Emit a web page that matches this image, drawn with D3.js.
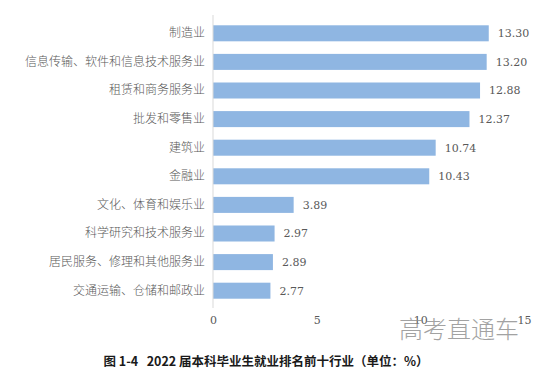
<!DOCTYPE html>
<html>
<head>
<meta charset="utf-8">
<script src="https://cdn.jsdelivr.net/npm/d3@7"></script>
<style>
	body { margin: 0; background: #fff; }
	svg { display: block; }
</style>
</head>
<body>
<div id="chart"></div>
<script>
// industries, top to bottom
var industries = ["制造业", "信息传输、软件和信息技术服务业", "租赁和商务服务业", "批发和零售业", "建筑业",
	"金融业", "文化、体育和娱乐业", "科学研究和技术服务业", "居民服务、修理和其他服务业", "交通运输、仓储和邮政业"];
var shares = [13.30, 13.20, 12.88, 12.37, 10.74, 10.43, 3.89, 2.97, 2.89, 2.77];
var xTicks = [0, 5, 10, 15];

var data = industries.map(function(d, i) { return {name: d, value: shares[i]}; });

var W = 543, H = 371;
var margin = {top: 19, right: 19, bottom: 63, left: 213};

var svg = d3.select("#chart").append("svg")
	.attr("width", W)
	.attr("height", H);

var x = d3.scaleLinear().domain([0, 15]).range([margin.left, margin.left + 311]);
var y = d3.scaleBand().domain(industries)
	.range([19, 305])
	.paddingInner(0.44)
	.paddingOuter(0.22);

var serif = "DejaVu Serif, Liberation Serif, serif";

// bars
svg.selectAll("rect.bar")
	.data(data)
	.enter().append("rect")
	.attr("class", "bar")
	.attr("x", x(0))
	.attr("y", function(d) { return y(d.name); })
	.attr("width", function(d) { return x(d.value) - x(0); })
	.attr("height", y.bandwidth())
	.attr("fill", "#8fb6e2");

// value labels
svg.selectAll("text.val")
	.data(data)
	.enter().append("text")
	.attr("class", "val")
	.attr("x", function(d) { return x(d.value) + 9; })
	.attr("y", function(d) { return y(d.name) + y.bandwidth() / 2; })
	.attr("dy", "0.35em")
	.style("font-family", serif)
	.attr("font-size", 11)
	.attr("fill", "#595959")
	.text(function(d) { return d.value.toFixed(2); });

// category axis (left)
var yAxis = svg.append("g")
	.attr("transform", "translate(" + margin.left + ",0)")
	.call(d3.axisLeft(y).tickSize(0).tickPadding(8));
yAxis.select(".domain")
	.attr("d", "M0,15V308")
	.attr("stroke", "#d9d9d9");
yAxis.selectAll("text")
	.style("font-family", "Noto Sans CJK SC, sans-serif")
	.attr("font-weight", 300)
	.attr("font-size", 12)
	.attr("fill", "#595959");

// value axis (bottom, no line)
var xAxis = svg.append("g")
	.attr("transform", "translate(0,312)")
	.call(d3.axisBottom(x).tickValues(xTicks).tickSize(0).tickPadding(4));
xAxis.select(".domain").remove();
xAxis.selectAll("text")
	.style("font-family", serif)
	.attr("font-size", 11)
	.attr("fill", "#595959");

// watermark
svg.append("text")
	.attr("x", 459)
	.attr("y", 338)
	.attr("text-anchor", "middle")
	.style("font-family", "Noto Sans CJK SC, sans-serif")
	.attr("font-weight", 300)
	.attr("font-size", 24)
	.attr("fill", "#8c8c8c")
	.attr("opacity", 0.8)
	.text("高考直通车");

// caption
svg.append("text")
	.attr("x", 266)
	.attr("y", 366)
	.attr("text-anchor", "middle")
	.style("font-family", "Noto Sans CJK SC, sans-serif")
	.attr("font-weight", 700)
	.attr("font-size", 12.5)
	.attr("fill", "#1a1a1a")
	.text("图 1-4\u00a0\u00a0\u00a02022 届本科毕业生就业排名前十行业（单位：%）");
</script>
</body>
</html>
